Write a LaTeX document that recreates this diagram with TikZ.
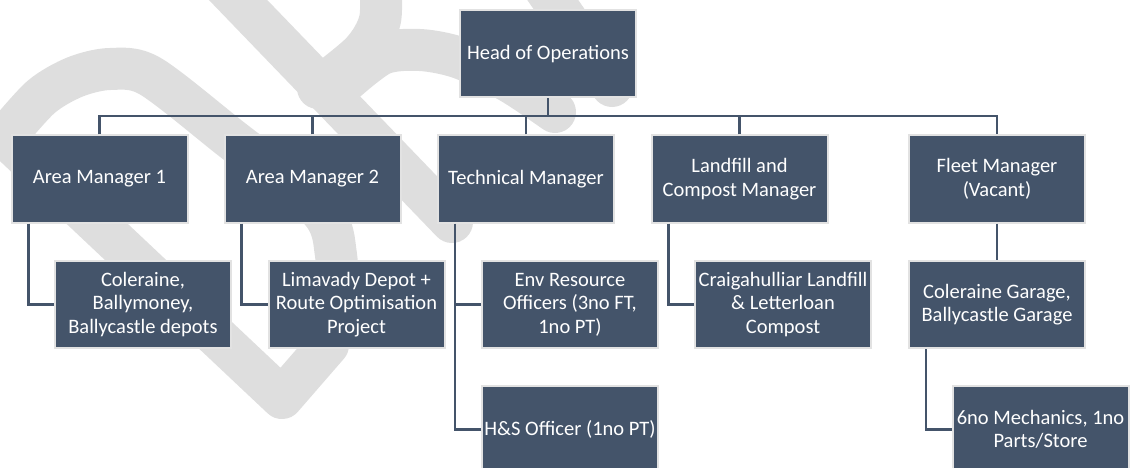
\documentclass[tikz,border=0pt]{standalone}
\usepackage{fontspec}
\setmainfont{Carlito}
\definecolor{boxfill}{RGB}{68,84,106}
\definecolor{boxedge}{RGB}{226,226,226}
\definecolor{wm}{RGB}{222,222,222}
\begin{document}
\begin{tikzpicture}[x=1pt,y=-1pt,
  orgbox/.style={rectangle, fill=boxfill, draw=boxedge, line width=2pt,
    minimum width=176pt, minimum height=87pt, inner sep=0pt, align=center,
    text=white, font=\fontsize{20.5}{23.5}\selectfont},
  conn/.style={draw=boxfill, line width=2.6pt},
  wmark/.style={draw=wm, line width=42pt, line cap=round, line join=round}]
\useasboundingbox (0,0) rectangle (1130,468);
\clip (0,0) rectangle (1130,468);
% watermark
\draw[wmark] plot[smooth, tension=0.5] coordinates {(5,137) (41,97) (75,77) (110,69) (150,76) (230,138) (320,210) (336,255) (335,300) (328,345)} -- (282,398) -- cycle;
\draw[wmark] (214,-25) -- (452,222);
\draw[wmark] plot[smooth, tension=0.5] coordinates {(380,-25) (380,20) (362,52) (318,88)};
\draw[wmark] plot[smooth, tension=0.5] coordinates {(345,82) (382,54) (420,50) (460,58) (510,82) (555,112)};
\draw[wmark] (539,-20) -- (612,86);
% boxes
\node[orgbox] (head) at (548,54) {Head of Operations};
\node[orgbox] (am1) at (99.5,179) {Area Manager 1};
\node[orgbox] (am2) at (312.5,179) {Area Manager 2};
\node[orgbox] (tm) at (526,179) {Technical Manager};
\node[orgbox] (lcm) at (739.5,179) {Landfill and\\Compost Manager};
\node[orgbox] (fm) at (997,179) {Fleet Manager\\(Vacant)};
\node[orgbox] (c1) at (143,304.5) {Coleraine,\\Ballymoney,\\Ballycastle depots};
\node[orgbox] (c2) at (356.5,304.5) {Limavady Depot +\\Route Optimisation\\Project};
\node[orgbox] (env) at (570,304.5) {Env Resource\\Officers (3no FT,\\1no PT)};
\node[orgbox] (craig) at (783,304.5) {Craigahulliar Landfill\\\& Letterloan\\Compost};
\node[orgbox] (cg) at (997,304.5) {Coleraine Garage,\\Ballycastle Garage};
\node[orgbox] (hs) at (570,429.5) {H\&S Officer (1no PT)};
\node[orgbox] (mech) at (1040.5,429.5) {6no Mechanics, 1no\\Parts/Store};
% connectors
\coordinate (bar) at (0,116);
\draw[conn] (head.south) -- (head.south |- bar);
\draw[conn] (am1.north) -- (am1.north |- bar) -- (fm.north |- bar) -- (fm.north);
\foreach \n in {am2,tm,lcm} \draw[conn] (\n.north) -- (\n.north |- bar);
\draw[conn] ([xshift=18pt]am1.south west) |- (c1.west);
\draw[conn] ([xshift=18pt]am2.south west) |- (c2.west);
\draw[conn] ([xshift=18pt]tm.south west) |- (hs.west);
\draw[conn] ([xshift=18pt]tm.south west |- env.west) -- (env.west);
\draw[conn] ([xshift=18pt]lcm.south west) |- (craig.west);
\draw[conn] (fm.south) -- (cg.north);
\draw[conn] ([xshift=18pt]cg.south west) |- (mech.west);
\end{tikzpicture}
\end{document}
